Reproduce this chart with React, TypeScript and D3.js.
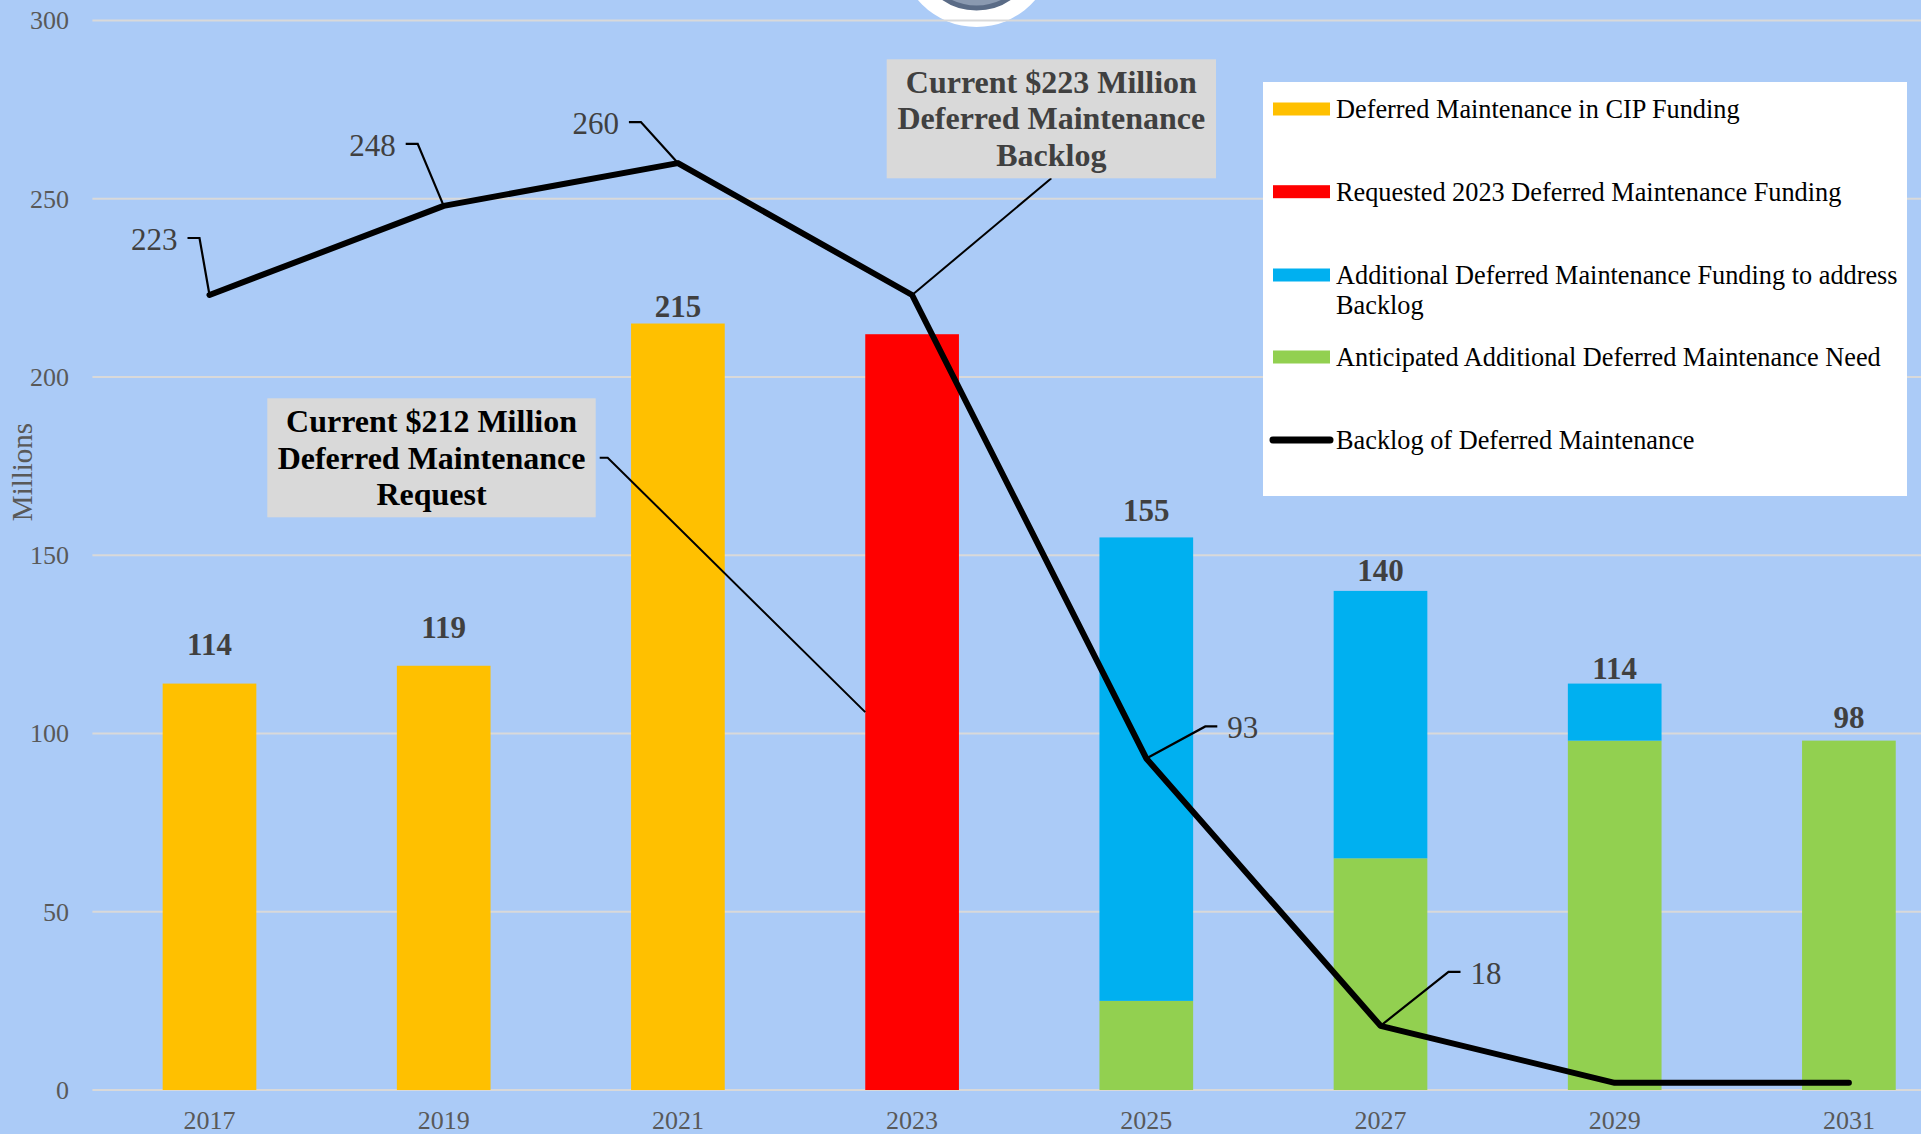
import React from 'react';
import * as d3 from 'd3';

// ---------- data ----------
const years = ['2017', '2019', '2021', '2023', '2025', '2027', '2029', '2031'];
const cipFunding = [114, 119, 215, 0, 0, 0, 0, 0];
const requestedFunding = [0, 0, 0, 212, 0, 0, 0, 0];
const additionalFunding = [0, 0, 0, 0, 130, 75, 16, 0];
const anticipatedNeed = [0, 0, 0, 0, 25, 65, 98, 98];
const backlog = [223, 248, 260, 223, 93, 18, 2, 2];
const totalLabels: (number | null)[] = [114, 119, 215, null, 155, 140, 114, 98];
const yTicks = [0, 50, 100, 150, 200, 250, 300];

const seriesNames = [
  'Deferred Maintenance in CIP Funding',
  'Requested 2023 Deferred Maintenance Funding',
  'Additional Deferred Maintenance Funding to address Backlog',
  'Anticipated Additional Deferred Maintenance Need',
  'Backlog of Deferred Maintenance',
];
const seriesColors = ['#ffc000', '#ff0000', '#00b0f0', '#92d050', '#000000'];
const calloutBacklog = ['Current $223 Million', 'Deferred Maintenance', 'Backlog'];
const calloutRequest = ['Current $212 Million', 'Deferred Maintenance', 'Request'];

// ---------- layout ----------
const W = 1921;
const H = 1134;
const FONT = '"Liberation Serif", "Times New Roman", serif';
const BG = '#abcbf7';
const plotLeft = 92.4;
const plotRight = 1966;
const yBottom = 1090;
const yTop = 20.5;
const totalLabelLift = [39, 38, 17, 0, 27, 20, 15, 23];
const lineLabelLayout: ({ ex: number; ey: number; side: 'left' | 'right' } | null)[] = [
  { ex: -10, ey: -57, side: 'left' },
  { ex: -26, ey: -62, side: 'left' },
  { ex: -37, ey: -41, side: 'left' },
  null,
  { ex: 59, ey: -32, side: 'right' },
  { ex: 68, ey: -54, side: 'right' },
  null,
  null,
];

export default function App() {
  const x = d3.scaleBand<string>().domain(years).range([plotLeft, plotRight]).padding(0);
  const step = x.bandwidth();
  const barW = step * 0.4;
  const cx = (y: string) => (x(y) as number) + step / 2;
  const y = d3.scaleLinear().domain([0, 300]).range([yBottom, yTop]);

  const rows = years.map((yr, i) => ({
    year: yr,
    cip: cipFunding[i],
    requested: requestedFunding[i],
    anticipated: anticipatedNeed[i],
    additional: additionalFunding[i],
  }));
  const keys = ['cip', 'requested', 'anticipated', 'additional'];
  const keyColor: Record<string, string> = {
    cip: seriesColors[0],
    requested: seriesColors[1],
    additional: seriesColors[2],
    anticipated: seriesColors[3],
  };
  const stacked = d3.stack<any>().keys(keys)(rows);

  const linePts: [number, number][] = years.map((yr, i) => [cx(yr), y(backlog[i])]);
  const lineGen = d3.line();

  const p2023: [number, number] = [cx('2023'), y(backlog[3])];
  const box1 = { x: 886.7, y: 59.3, w: 329.3, h: 119 };
  const box2 = { x: 267.3, y: 398.3, w: 328.4, h: 119 };
  const reqTarget: [number, number] = [cx('2023') - barW / 2, y(requestedFunding[3] / 2)];

  const legendX = 1263;
  const legendY = 82;
  const legendRows = [109, 191.7, 275, 357, 440];

  return (
    <svg
      width={W}
      height={H}
      style={{ position: 'absolute', left: 0, top: 0, display: 'block' }}
      fontFamily={FONT}
    >
      <rect x={0} y={0} width={W} height={H} fill={BG} />

      {/* logo fragment */}
      <g>
        <circle cx={976.5} cy={-50} r={77} fill="#ffffff" />
        <circle cx={976.5} cy={-50} r={58} fill="#8a99b0" stroke="#5a6b86" strokeWidth={5} />
      </g>

      {/* gridlines */}
      {yTicks.map((t) => (
        <line key={t} x1={plotLeft} x2={W} y1={y(t)} y2={y(t)} stroke="#d9d9d9" strokeWidth={2} />
      ))}

      {yTicks.map((t) => (
        <text key={t} x={69} y={y(t)} dy="0.34em" textAnchor="end" fontSize={26} fill="#595959">
          {t}
        </text>
      ))}

      {years.map((yr) => (
        <text key={yr} x={cx(yr)} y={1129} textAnchor="middle" fontSize={26} fill="#595959">
          {yr}
        </text>
      ))}

      <text
        transform={`translate(22,472) rotate(-90)`}
        textAnchor="middle"
        dy="0.34em"
        fontSize={29}
        fill="#595959"
      >
        Millions
      </text>

      {/* bars */}
      {stacked.map((layer) => (
        <g key={layer.key} fill={keyColor[layer.key]}>
          {layer.map((d: any, i: number) =>
            d[1] - d[0] > 0 ? (
              <rect
                key={i}
                x={cx(years[i]) - barW / 2}
                width={barW}
                y={y(d[1])}
                height={y(d[0]) - y(d[1])}
              />
            ) : null
          )}
        </g>
      ))}

      {/* request callout leader */}
      <polyline
        points={`${box2.x + box2.w + 4},457.7 ${box2.x + box2.w + 12},457.7 ${reqTarget[0]},${reqTarget[1]}`}
        fill="none"
        stroke="#000"
        strokeWidth={2}
      />

      {totalLabels.map((v, i) => {
        if (v == null) return null;
        const top = y(v) - totalLabelLift[i];
        return (
          <text
            key={i}
            x={cx(years[i])}
            y={top}
            dy="0.34em"
            textAnchor="middle"
            fontSize={31}
            fontWeight="bold"
            fill="#404040"
          >
            {v}
          </text>
        );
      })}

      {/* backlog line */}
      <path
        d={lineGen(linePts) || ''}
        fill="none"
        stroke="#000"
        strokeWidth={6}
        strokeLinejoin="round"
        strokeLinecap="round"
      />

      {lineLabelLayout.map((L, i) => {
        if (!L) return null;
        const [px, py] = linePts[i];
        const ex = px + L.ex;
        const ey = py + L.ey;
        const dir = L.side === 'left' ? -1 : 1;
        const hx = ex + dir * 12;
        const tx = hx + dir * 10;
        return (
          <g key={i}>
            <polyline
              points={`${px},${py} ${ex},${ey} ${hx},${ey}`}
              fill="none"
              stroke="#000"
              strokeWidth={2.2}
            />
            <text
              x={tx}
              y={ey + 1.5}
              dy="0.34em"
              textAnchor={L.side === 'left' ? 'end' : 'start'}
              fontSize={31}
              fill="#404040"
            >
              {backlog[i]}
            </text>
          </g>
        );
      })}

      <line
        x1={box1.x + box1.w / 2}
        y1={box1.y + box1.h}
        x2={p2023[0]}
        y2={p2023[1]}
        stroke="#000"
        strokeWidth={2}
      />

      <rect x={box1.x} y={box1.y} width={box1.w} height={box1.h} fill="#d9d9d9" />
      {calloutBacklog.map((s, i) => (
        <text
          key={i}
          x={box1.x + box1.w / 2}
          y={box1.y + 33.6 + i * 36.5}
          textAnchor="middle"
          fontSize={32}
          fontWeight="bold"
          fill="#404040"
        >
          {s}
        </text>
      ))}
      <rect x={box2.x} y={box2.y} width={box2.w} height={box2.h} fill="#d9d9d9" />
      {calloutRequest.map((s, i) => (
        <text
          key={i}
          x={box2.x + box2.w / 2}
          y={box2.y + 34 + i * 36.5}
          textAnchor="middle"
          fontSize={32}
          fontWeight="bold"
          fill="#000"
        >
          {s}
        </text>
      ))}

      {/* legend */}
      <rect x={legendX} y={legendY} width={644} height={414} fill="#ffffff" />
      {seriesNames.map((name, i) => {
        const cy = legendRows[i];
        const isLine = i === 4;
        const lines =
          i === 2 ? ['Additional Deferred Maintenance Funding to address', 'Backlog'] : [name];
        return (
          <g key={name}>
            {isLine ? (
              <line
                x1={1273}
                x2={1330}
                y1={cy}
                y2={cy}
                stroke={seriesColors[i]}
                strokeWidth={7}
                strokeLinecap="round"
              />
            ) : (
              <rect x={1273} y={cy - 6.5} width={57} height={13} fill={seriesColors[i]} />
            )}
            {lines.map((ln, j) => (
              <text key={j} x={1336} y={cy + j * 30} dy="0.34em" fontSize={26.3} fill="#000">
                {ln}
              </text>
            ))}
          </g>
        );
      })}
    </svg>
  );
}
